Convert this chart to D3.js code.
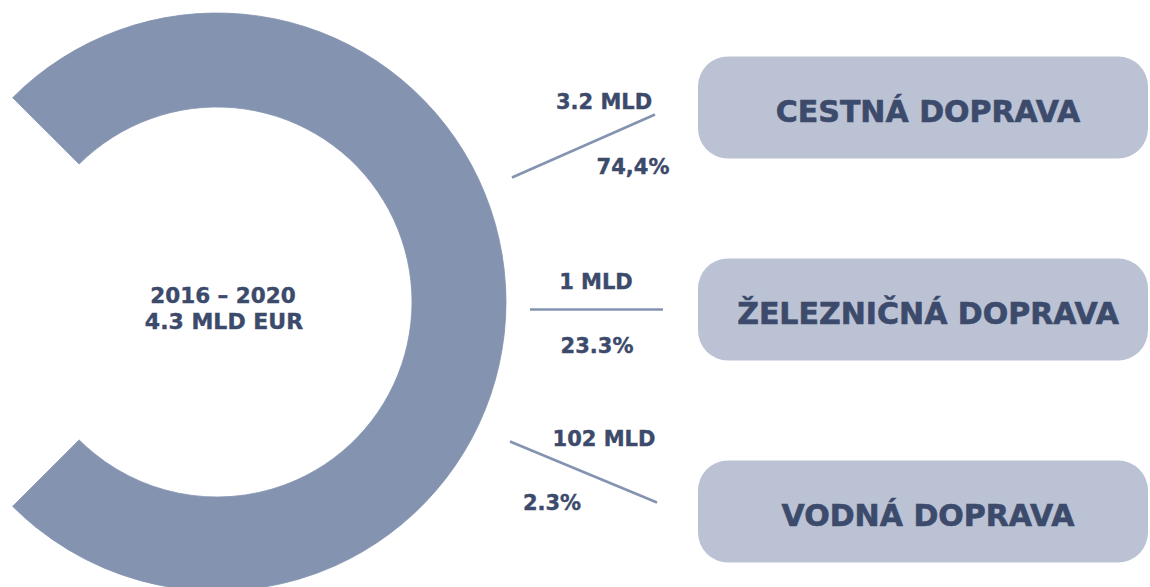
<!DOCTYPE html>
<html>
<head>
<meta charset="utf-8">
<script src="https://cdn.jsdelivr.net/npm/d3@7"></script>
<style>
  body { margin: 0; background: #fff; }
  text { font-family: "DejaVu Sans", sans-serif; font-weight: bold; fill: #3c4a6b; stroke: #3c4a6b; stroke-width: 0.4px; }
</style>
</head>
<body>
<div id="container"></div>
<script>
/* CONSTANTS AND GLOBALS */
const width = 1150;
const height = 587;

/* DATA */
const categories = ["CESTNÁ DOPRAVA", "ŽELEZNIČNÁ DOPRAVA", "VODNÁ DOPRAVA"];
const shares = [74.4, 23.3, 2.3];
const amountLabels = ["3.2 MLD", "1 MLD", "102 MLD"];
const shareLabels = ["74,4%", "23.3%", "2.3%"];
const periodLabel = "2016 – 2020";
const totalLabel = "4.3 MLD EUR";

// leader line + label placement per row (relative to row center)
const layout = [
  { dy1: 70, dy2: 7, x1: 512, x2: 655, ax: 604, ay: 1, sx: 633, sy: 66 },
  { dy1: 0, dy2: 0, x1: 530, x2: 663, ax: 596, ay: -21, sx: 597, sy: 43 },
  { dy1: -70, dy2: -9, x1: 510, x2: 657, ax: 604, ay: -66, sx: 552, sy: -2 }
];

const ringColor = "#8393b0";
const boxColor = "#bbc2d4";

/* SCALES */
const yScale = d3.scalePoint()
  .domain(categories)
  .range([107.5, 511.5]);

/* HTML ELEMENTS */
const svg = d3.select("#container")
  .append("svg")
  .attr("width", width)
  .attr("height", height);

// ring: pie over shares, all one colour, with a gap on the left
const pie = d3.pie()
  .sort(null)
  .startAngle(-Math.PI / 4)
  .endAngle(Math.PI * 5 / 4);

const arc = d3.arc()
  .innerRadius(195)
  .outerRadius(289);

const ring = svg.append("g")
  .attr("transform", "translate(217,302)");

ring.selectAll("path")
  .data(pie(shares))
  .join("path")
  .attr("d", arc)
  .attr("fill", ringColor)
  .attr("stroke", ringColor)
  .attr("stroke-width", 0.8);

svg.append("text")
  .attr("x", 223)
  .attr("y", 303)
  .attr("text-anchor", "middle")
  .attr("font-size", 21.5)
  .text(periodLabel);

svg.append("text")
  .attr("x", 224)
  .attr("y", 329)
  .attr("text-anchor", "middle")
  .attr("font-size", 22)
  .text(totalLabel);

// category boxes
const rows = svg.selectAll("g.row")
  .data(categories)
  .join("g")
  .attr("class", "row");

rows.append("rect")
  .attr("x", 698)
  .attr("y", d => yScale(d) - 51)
  .attr("width", 450)
  .attr("height", 102)
  .attr("rx", 30)
  .attr("fill", boxColor);

rows.append("text")
  .attr("x", 928)
  .attr("y", d => yScale(d) + 14)
  .attr("text-anchor", "middle")
  .attr("font-size", 30)
  .style("stroke-width", "0.6px")
  .text(d => d);

// leader lines
rows.append("line")
  .attr("x1", (d, i) => layout[i].x1)
  .attr("x2", (d, i) => layout[i].x2)
  .attr("y1", (d, i) => yScale(d) + layout[i].dy1)
  .attr("y2", (d, i) => yScale(d) + layout[i].dy2)
  .attr("stroke", ringColor)
  .attr("stroke-width", 2.5);

rows.append("text")
  .attr("x", (d, i) => layout[i].ax)
  .attr("y", (d, i) => yScale(d) + layout[i].ay)
  .attr("text-anchor", "middle")
  .attr("font-size", 21)
  .text((d, i) => amountLabels[i]);

rows.append("text")
  .attr("x", (d, i) => layout[i].sx)
  .attr("y", (d, i) => yScale(d) + layout[i].sy)
  .attr("text-anchor", "middle")
  .attr("font-size", 21)
  .text((d, i) => shareLabels[i]);
</script>
</body>
</html>
